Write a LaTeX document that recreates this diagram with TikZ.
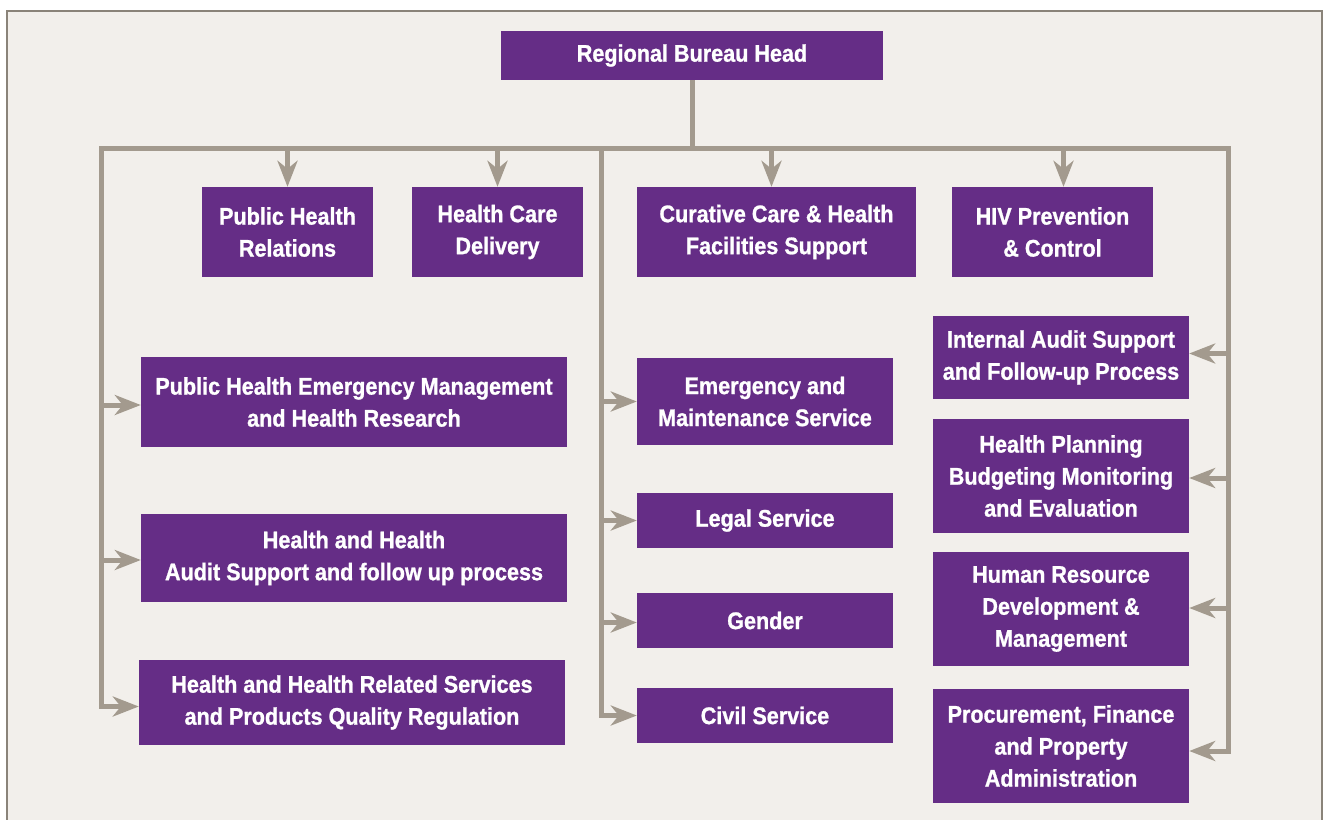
\documentclass[tikz,border=0pt]{standalone}
\usepackage{fontspec}
\setmainfont[FakeStretch=0.9,FakeBold=1]{Liberation Sans}
\usetikzlibrary{arrows.meta}
\definecolor{plum}{RGB}{101,45,134}
\definecolor{wire}{RGB}{163,154,142}
\definecolor{paper}{RGB}{242,239,235}
\begin{document}
\begin{tikzpicture}[x=1pt,y=-1pt]
\useasboundingbox (0,0) rectangle (1324,819);
\fill[paper] (7,11) rectangle (1322,830);
\draw[wire!85!black,line width=1.2pt] (7,830) -- (7,11) -- (1322,11) -- (1322,830);
\tikzstyle{every node}=[fill=plum,text=white,align=center,inner sep=0pt,
  font=\bfseries\fontsize{24}{32}\selectfont];
\tikzstyle{line}=[wire,line width=5pt];
\tikzstyle{arr}=[line,-{Stealth[length=26pt,width=20pt,inset=8pt]}];
\node (head)[minimum width=382,minimum height=49] at (692,55.5) {Regional Bureau Head};
\node (phr)[minimum width=171,minimum height=90] at (287.5,232) {Public Health\\Relations};
\node (hcd)[minimum width=171,minimum height=90] at (497.5,232) {Health Care\\Delivery};
\node (ccs)[minimum width=279,minimum height=90] at (776.5,232) {Curative Care \& Health\\Facilities Support};
\node (hiv)[minimum width=201,minimum height=90] at (1052.5,232) {HIV Prevention\\\& Control};
\node (phem)[minimum width=426,minimum height=90] at (354,402) {Public Health Emergency Management\\and Health Research};
\node (hha)[minimum width=426,minimum height=88] at (354,558) {Health and Health\\Audit Support and follow up process};
\node (hqr)[minimum width=426,minimum height=85] at (352,702.5) {Health and Health Related Services\\and Products Quality Regulation};
\node (ems)[minimum width=256,minimum height=87] at (765,401.5) {Emergency and\\Maintenance Service};
\node (leg)[minimum width=256,minimum height=55] at (765,520.5) {Legal Service};
\node (gen)[minimum width=256,minimum height=55] at (765,620.5) {Gender};
\node (civ)[minimum width=256,minimum height=55] at (765,715.5) {Civil Service};
\node (ias)[minimum width=256,minimum height=83] at (1061,357.5) {Internal Audit Support\\and Follow-up Process};
\node (hpb)[minimum width=256,minimum height=114] at (1061,476) {Health Planning\\Budgeting Monitoring\\and Evaluation};
\node (hrd)[minimum width=256,minimum height=114] at (1061,609) {Human Resource\\Development \&\\Management};
\node (pfp)[minimum width=256,minimum height=114] at (1061,746) {Procurement, Finance\\and Property\\Administration};
\coordinate (busL) at (101,148);
\coordinate (busM) at (601,148);
\coordinate (busR) at (1228,148);
\draw[line](head.south) -- (head.south |- busL);
\draw[line,{Stealth[length=26pt,width=20pt,inset=8pt]}-{Stealth[length=26pt,width=20pt,inset=8pt]}]
([yshift=-4]hqr.west) -- ([yshift=-4]hqr.west -| busL) -- (busL) -- (busR) -- ([yshift=-5]pfp.east -| busR) -- ([yshift=-5]pfp.east);
\draw[arr](busM) -- (civ.west -| busM) -- (civ.west);
\draw[arr](phr.north |- busL) -- (phr.north);
\draw[arr](hcd.north |- busL) -- (hcd.north);
\draw[arr]([xshift=-5]ccs.north |- busL) -- ([xshift=-5]ccs.north);
\draw[arr]([xshift=11]hiv.north |- busL) -- ([xshift=11]hiv.north);
\draw[arr]([yshift=-3]phem.west -| busL) -- ([yshift=-3]phem.west);
\draw[arr]([yshift=-2]hha.west -| busL) -- ([yshift=-2]hha.west);
\draw[arr](ems.west -| busM) -- (ems.west);
\draw[arr](leg.west -| busM) -- (leg.west);
\draw[arr]([yshift=-2]gen.west -| busM) -- ([yshift=-2]gen.west);
\draw[arr]([yshift=4]ias.east -| busR) -- ([yshift=4]ias.east);
\draw[arr]([yshift=-2]hpb.east -| busR) -- ([yshift=-2]hpb.east);
\draw[arr]([yshift=1]hrd.east -| busR) -- ([yshift=1]hrd.east);
\end{tikzpicture}
\end{document}
